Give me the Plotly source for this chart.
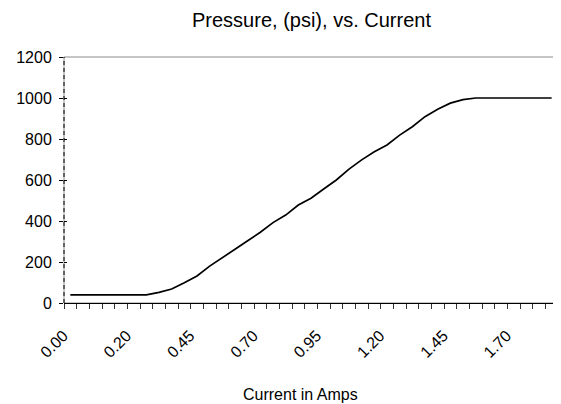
import numpy as np
import plotly.graph_objects as go

# Categories (current in amps) as they appear on the category axis
current_labels = ["0.00"] + [f"{0.05 * k:.2f}" for k in range(0, 38)]
pressure = [40, 40, 40, 40, 40, 40, 40, 52, 68, 99,
            132, 180, 223, 262, 304, 345, 392, 429, 478, 511,
            556, 600, 653, 698, 738, 771, 819, 860, 909, 945,
            975, 992, 1000, 1000, 1000, 1000, 1000, 1000, 1000]
label_step = 5
y_ticks = [0, 200, 400, 600, 800, 1000, 1200]

idx = np.arange(len(current_labels))
label_idx = idx[::label_step]
label_text = [current_labels[i] for i in label_idx]
boundaries = np.arange(len(current_labels) + 1) - 0.5
x_range = [-0.5, len(current_labels) - 0.5]
y_range = [0, 1200]

font = "Liberation Sans, Arial, sans-serif"

# the page body adds an 8px offset, so the figure is sized to fit the window
fig = go.Figure()
fig.add_trace(go.Scatter(x=idx, y=pressure, mode="lines",
                         line=dict(color="black", width=1.7),
                         hoverinfo="skip", showlegend=False))
# invisible helper trace so the overlay axes (boundary ticks / cross ticks) are drawn
fig.add_trace(go.Scatter(x=idx, y=pressure, mode="none", xaxis="x2", yaxis="y2",
                         hoverinfo="skip", showlegend=False))

fig.update_layout(
    width=553, height=396,
    margin=dict(l=56, r=3, t=49, b=101),
    paper_bgcolor="white", plot_bgcolor="white",
    font=dict(family=font, color="black", size=16),
    showlegend=False,
    xaxis=dict(
        range=x_range, automargin=False,
        tickmode="array", tickvals=label_idx, ticktext=label_text,
        tickangle=-45, ticks="", ticklen=0,
        ticklabelstandoff=16, ticklabelshift=-7,
        tickfont=dict(family=font, size=16, color="black"),
        showgrid=False, zeroline=False,
        showline=True, linecolor="black", linewidth=1,
    ),
    xaxis2=dict(
        range=x_range, overlaying="x", anchor="y", side="bottom",
        automargin=False,
        tickmode="array", tickvals=boundaries, showticklabels=False,
        ticks="outside", ticklen=5, tickwidth=1, tickcolor="#333333",
        showgrid=False, zeroline=False, showline=False,
    ),
    yaxis=dict(
        range=y_range, automargin=False,
        tickmode="array", tickvals=y_ticks,
        ticks="outside", ticklen=4, tickwidth=1, tickcolor="black",
        ticklabelstandoff=4,
        tickfont=dict(family=font, size=16, color="black"),
        showgrid=False, zeroline=False, showline=False,
    ),
    yaxis2=dict(
        range=y_range, overlaying="y", anchor="x", side="left",
        automargin=False,
        tickmode="array", tickvals=y_ticks, showticklabels=False,
        ticks="inside", ticklen=3, tickwidth=1, tickcolor="black",
        showgrid=False, zeroline=False, showline=False,
    ),
)

# plot-area border (grey) and dashed y-axis line
fig.add_shape(type="rect", xref="paper", yref="paper", x0=0, x1=1, y0=0, y1=1,
              line=dict(color="#8c8c8c", width=1), layer="below")
fig.add_shape(type="line", xref="paper", yref="paper", x0=0, x1=0, y0=0, y1=1,
              line=dict(color="black", width=1, dash="4px,3px"))

fig.add_annotation(text="Pressure, (psi), vs. Current", xref="paper", yref="paper",
                   x=0.5, y=1, yanchor="middle", yshift=37, showarrow=False,
                   font=dict(family=font, size=20, color="black"))
fig.add_annotation(text="Current in Amps", xref="paper", yref="paper",
                   x=0.479, y=0, yanchor="middle", yshift=-91, showarrow=False,
                   font=dict(family=font, size=16, color="black"))

fig.write_html("out.html")
